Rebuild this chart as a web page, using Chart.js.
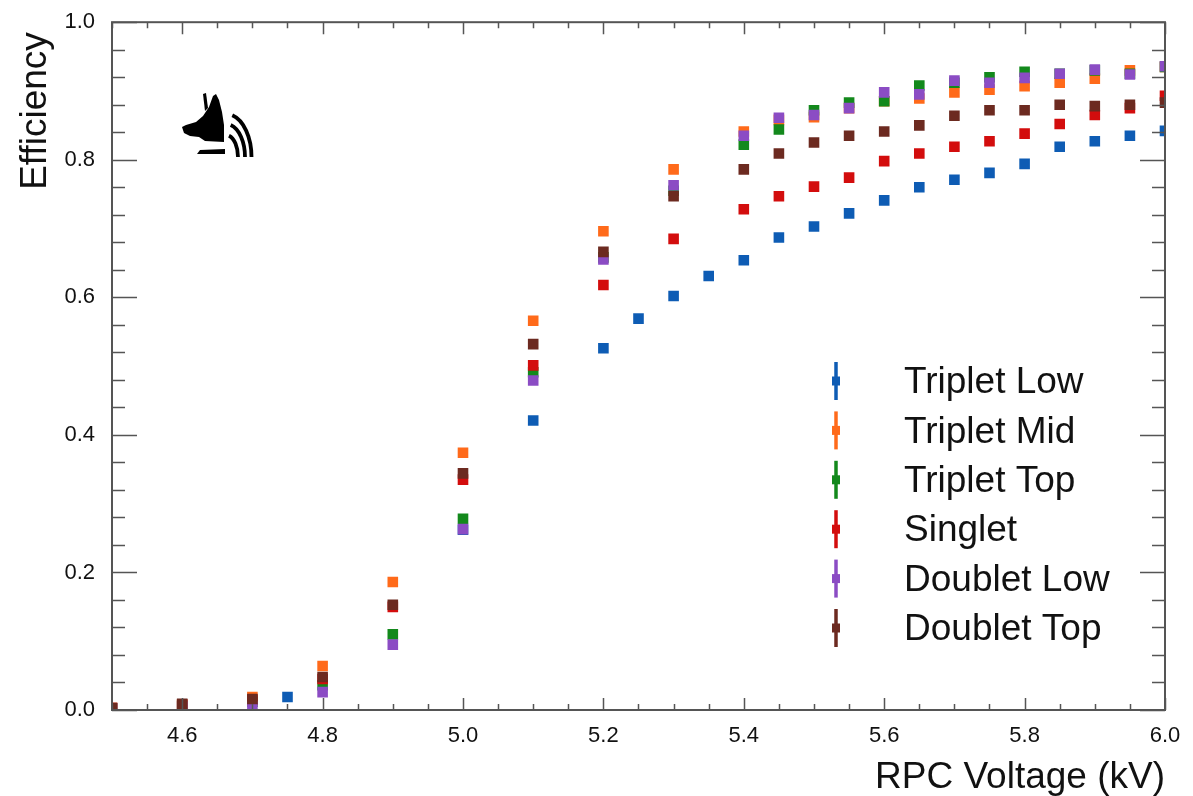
<!DOCTYPE html>
<html>
<head>
<meta charset="utf-8">
<script src="https://cdn.jsdelivr.net/npm/chart.js@4/dist/chart.umd.min.js"></script>
<style>
  html, body { margin: 0; padding: 0; background: #fff; }
  #wrap { width: 1193px; height: 796px; }
</style>
</head>
<body>
<div id="wrap"><canvas id="chart" width="1193" height="796"></canvas></div>
<script>
// voltages (kV)
const voltage = [4.5, 4.6, 4.7, 4.8, 4.9, 5.0, 5.1, 5.2, 5.3, 5.4, 5.45, 5.5, 5.55, 5.6, 5.65, 5.7, 5.75, 5.8, 5.85, 5.9, 5.95, 6.0];
const tripletLowVoltage = [4.75, 5.0, 5.1, 5.2, 5.25, 5.3, 5.35, 5.4, 5.45, 5.5, 5.55, 5.6, 5.65, 5.7, 5.75, 5.8, 5.85, 5.9, 5.95, 6.0];

// efficiencies
const tripletLow = [0.019, 0.262, 0.421, 0.526, 0.569, 0.602, 0.631, 0.654, 0.687, 0.703, 0.722, 0.741, 0.760, 0.771, 0.781, 0.794, 0.819, 0.827, 0.835, 0.842];
const tripletMid = [0.003, 0.008, 0.019, 0.064, 0.186, 0.374, 0.566, 0.696, 0.786, 0.841, 0.858, 0.862, 0.875, 0.885, 0.889, 0.898, 0.902, 0.907, 0.912, 0.918, 0.930, 0.935];
const tripletTop = [0.002, 0.006, 0.012, 0.036, 0.110, 0.278, 0.491, 0.658, 0.755, 0.822, 0.844, 0.872, 0.883, 0.885, 0.908, 0.912, 0.920, 0.928, 0.925, 0.930, 0.925, 0.935];
const singlet = [0.003, 0.008, 0.015, 0.045, 0.150, 0.335, 0.501, 0.618, 0.685, 0.728, 0.747, 0.761, 0.774, 0.798, 0.809, 0.819, 0.827, 0.838, 0.852, 0.865, 0.875, 0.893];
const doubletLow = [0.002, 0.005, 0.005, 0.026, 0.095, 0.263, 0.479, 0.655, 0.763, 0.835, 0.861, 0.865, 0.875, 0.898, 0.895, 0.915, 0.912, 0.919, 0.925, 0.931, 0.924, 0.936];
const doubletTop = [0.003, 0.009, 0.016, 0.048, 0.153, 0.344, 0.532, 0.666, 0.747, 0.786, 0.809, 0.825, 0.835, 0.841, 0.850, 0.864, 0.872, 0.872, 0.880, 0.878, 0.880, 0.883];

const seriesNames = ["Triplet Low", "Triplet Mid", "Triplet Top", "Singlet", "Doublet Low", "Doublet Top"];
const seriesColors = ["#0e5cb4", "#ff6a1a", "#13891c", "#d30d0d", "#8b4cc4", "#6c2a20"];

const xTicks = [4.6, 4.8, 5.0, 5.2, 5.4, 5.6, 5.8, 6.0];
const yTicks = [0.0, 0.2, 0.4, 0.6, 0.8, 1.0];

const FONT = "'Liberation Sans', Arial, Helvetica, sans-serif";

function pts(xs, ys) {
    return xs.map((x, i) => ({ x: x, y: ys[i] }));
}

const allSeries = [
    pts(tripletLowVoltage, tripletLow),
    pts(voltage, tripletMid),
    pts(voltage, tripletTop),
    pts(voltage, singlet),
    pts(voltage, doubletLow),
    pts(voltage, doubletTop),
];

const datasets = allSeries.map((data, i) => ({
    label: seriesNames[i],
    data: data,
    pointStyle: "rect",
    pointRadius: 7.5,
    pointHoverRadius: 7.5,
    pointBorderWidth: 0,
    backgroundColor: seriesColors[i],
    borderColor: seriesColors[i],
    showLine: false,
    order: 5 - i,
}));

// frame, inward ticks, titles, legend and logo (ROOT style)
const decorations = {
    id: "decorations",
    afterDraw(chart) {
        const ctx = chart.ctx;
        const a = chart.chartArea;
        const xs = chart.scales.x, ys = chart.scales.y;
        ctx.save();

        ctx.strokeStyle = "#555";
        ctx.lineWidth = 2;
        ctx.strokeRect(a.left, a.top, a.right - a.left, a.bottom - a.top);

        ctx.lineWidth = 1.5;
        ctx.beginPath();
        for (let v = 0; v <= 1.0001; v += 0.04) {
            const y = Math.round(ys.getPixelForValue(v)) + 0.5;
            const major = Math.abs(v * 5 - Math.round(v * 5)) < 1e-6;
            const len = major ? 25 : 13;
            ctx.moveTo(a.left, y); ctx.lineTo(a.left + len, y);
            ctx.moveTo(a.right, y); ctx.lineTo(a.right - len, y);
        }
        for (let v = 4.5; v <= 6.0001; v += 0.05) {
            const x = Math.round(xs.getPixelForValue(v)) + 0.5;
            const major = Math.abs(v * 5 - Math.round(v * 5)) < 1e-6;
            const len = major ? 12 : 6;
            ctx.moveTo(x, a.bottom); ctx.lineTo(x, a.bottom - len);
            ctx.moveTo(x, a.top); ctx.lineTo(x, a.top + len);
        }
        ctx.stroke();

        // axis titles
        ctx.fillStyle = "#111";
        ctx.font = "37px " + FONT;
        ctx.textAlign = "right";
        ctx.textBaseline = "alphabetic";
        ctx.fillText("RPC Voltage (kV)", a.right, 788);
        ctx.save();
        ctx.translate(46, a.top + 10);
        ctx.rotate(-Math.PI / 2);
        ctx.textAlign = "right";
        ctx.fillText("Efficiency", 0, 0);
        ctx.restore();

        // legend
        ctx.font = "37px " + FONT;
        ctx.textAlign = "left";
        ctx.textBaseline = "middle";
        seriesNames.forEach((name, i) => {
            const y = 381 + i * 49.4;
            ctx.strokeStyle = seriesColors[i];
            ctx.lineWidth = 3.5;
            ctx.beginPath();
            ctx.moveTo(836, y - 19); ctx.lineTo(836, y + 19);
            ctx.stroke();
            ctx.fillStyle = seriesColors[i];
            ctx.fillRect(832, y - 4.5, 8, 9);
            ctx.fillStyle = "#111";
            ctx.fillText(name, 904, y + 2);
        });

        // logo
        ctx.fillStyle = "#000";
        ctx.beginPath();
        ctx.moveTo(182, 127); ctx.lineTo(186, 125); ctx.lineTo(196, 122);
        ctx.lineTo(203, 116); ctx.lineTo(209, 107); ctx.lineTo(213, 96);
        ctx.lineTo(216, 94); ctx.lineTo(219, 100); ctx.lineTo(222, 112);
        ctx.lineTo(224, 125); ctx.lineTo(224, 142); ctx.lineTo(205, 141);
        ctx.lineTo(199, 137); ctx.lineTo(190, 136); ctx.lineTo(184, 133);
        ctx.closePath(); ctx.fill();
        ctx.beginPath();
        ctx.moveTo(203, 94); ctx.lineTo(206, 93); ctx.lineTo(208, 108); ctx.lineTo(205, 111);
        ctx.closePath(); ctx.fill();
        ctx.beginPath();
        ctx.moveTo(200, 150); ctx.lineTo(225, 149); ctx.lineTo(225, 154); ctx.lineTo(197, 154);
        ctx.closePath(); ctx.fill();
        ctx.strokeStyle = "#000";
        ctx.lineWidth = 3.8;
        [[12, 22], [19, 33], [25.5, 43]].forEach(r => {
            ctx.beginPath();
            ctx.ellipse(226, 157, r[0], r[1], 0, -Math.PI / 2 + 0.25, 0);
            ctx.stroke();
        });

        ctx.restore();
    }
};

new Chart(document.getElementById("chart").getContext("2d"), {
    type: "scatter",
    data: { datasets: datasets },
    options: {
        responsive: false,
        animation: false,
        layout: { padding: { top: 18, right: 28, left: 0, bottom: 0 } },
        plugins: {
            legend: { display: false },
            tooltip: { enabled: false },
        },
        scales: {
            x: {
                type: "linear",
                min: 4.5,
                max: 6.0,
                grid: { display: false },
                border: { display: false },
                afterBuildTicks: s => { s.ticks = xTicks.map(v => ({ value: v })); },
                afterFit: s => { s.height = 86; },
                ticks: {
                    padding: 5,
                    color: "#111",
                    font: { family: FONT, size: 22 },
                    maxRotation: 0,
                    callback: v => v.toFixed(1),
                },
            },
            y: {
                type: "linear",
                min: 0,
                max: 1.0,
                grid: { display: false },
                border: { display: false },
                afterBuildTicks: s => { s.ticks = yTicks.map(v => ({ value: v })); },
                afterFit: s => { s.width = 112; },
                ticks: {
                    padding: 9,
                    color: "#111",
                    font: { family: FONT, size: 22 },
                    callback: v => v.toFixed(1),
                },
            },
        },
    },
    plugins: [decorations],
});
</script>
</body>
</html>
